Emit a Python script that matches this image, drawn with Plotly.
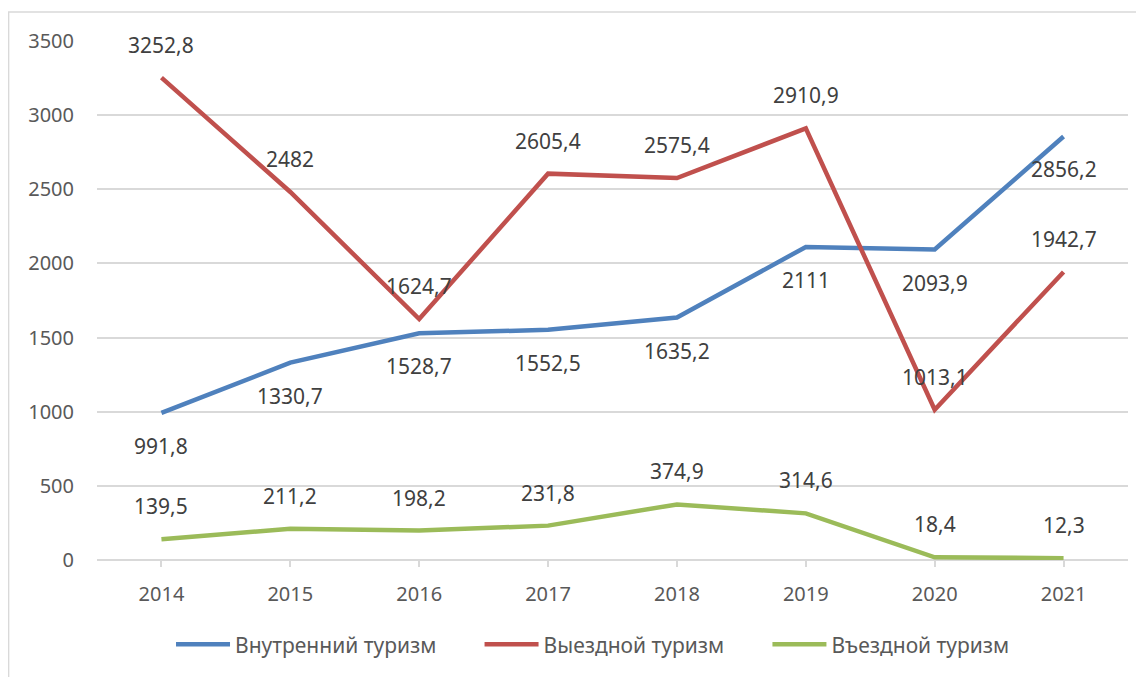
import plotly.graph_objects as go

years = ["2014", "2015", "2016", "2017", "2018", "2019", "2020", "2021"]
domestic = [991.8, 1330.7, 1528.7, 1552.5, 1635.2, 2111, 2093.9, 2856.2]
outbound = [3252.8, 2482, 1624.7, 2605.4, 2575.4, 2910.9, 1013.1, 1942.7]
inbound = [139.5, 211.2, 198.2, 231.8, 374.9, 314.6, 18.4, 12.3]

names = ["Внутренний туризм", "Выездной туризм", "Въездной туризм"]
colors = ["#4F81BD", "#C0504D", "#9BBB59"]
series = [domestic, outbound, inbound]
# label direction: -1 below, +1 above
label_dir = [-1, 1, 1]

FONT = "Noto Sans"
TXT = "#404040"

def fmt(v):
    s = ("%g" % v)
    return s.replace(".", ",")

PAD = "\u00a0" * 7

fig = go.Figure()
for k, (vals, name, col) in enumerate(zip(series, names, colors)):
    label = name + (PAD if k < len(names) - 1 else "")
    fig.add_trace(go.Scatter(x=years, y=vals, mode="lines", name=label,
                             line=dict(color=col, width=4.5)))

annotations = []
for vals, d in zip(series, label_dir):
    for i, v in enumerate(vals):
        annotations.append(dict(x=i, y=v, xref="x", yref="y", text=fmt(v),
                                showarrow=False, yshift=33 * d,
                                font=dict(family=FONT, size=21, color=TXT)))

# page has an 8px body margin; figure is sized to fit inside the window
W, H = 1136, 669
L, R, T, B = 88.5, 15.5, 33, 115
pw = W - L - R
ph = H - T - B

fig.update_layout(
    width=W, height=H,
    margin=dict(l=L, r=R, t=T, b=B),
    paper_bgcolor="white", plot_bgcolor="white",
    showlegend=True,
    legend=dict(orientation="h", x=(585 - L) / pw, xanchor="center",
                y=-(639 - (H - B)) / ph, yanchor="middle",
                font=dict(family=FONT, size=21, color="#595959"),
                itemwidth=54, tracegroupgap=0),
    annotations=annotations,
    shapes=[dict(type="rect", xref="paper", yref="paper",
                 x0=(0 - L) / pw, x1=1.3, y0=-0.6, y1=(H - B - 4) / ph,
                 line=dict(color="#d9d9d9", width=1.5), layer="below")],
)
fig.update_xaxes(type="category", categoryorder="array", categoryarray=years,
                 range=[-0.5, len(years) - 0.5],
                 showgrid=False, showline=False,
                 ticks="outside", ticklen=6, tickcolor="#d9d9d9", tickwidth=1.5,
                 tickfont=dict(family=FONT, size=20, color="#595959"),
                 ticklabelstandoff=10, zeroline=False)
fig.update_yaxes(range=[0, 3500], dtick=500, showgrid=True, gridcolor="#d9d9d9",
                 gridwidth=1.5, zeroline=True, zerolinecolor="#d9d9d9", zerolinewidth=1.5,
                 showline=False, tickfont=dict(family=FONT, size=20, color="#595959"),
                 ticklabelstandoff=22, fixedrange=True)

fig.write_html("out.html")
